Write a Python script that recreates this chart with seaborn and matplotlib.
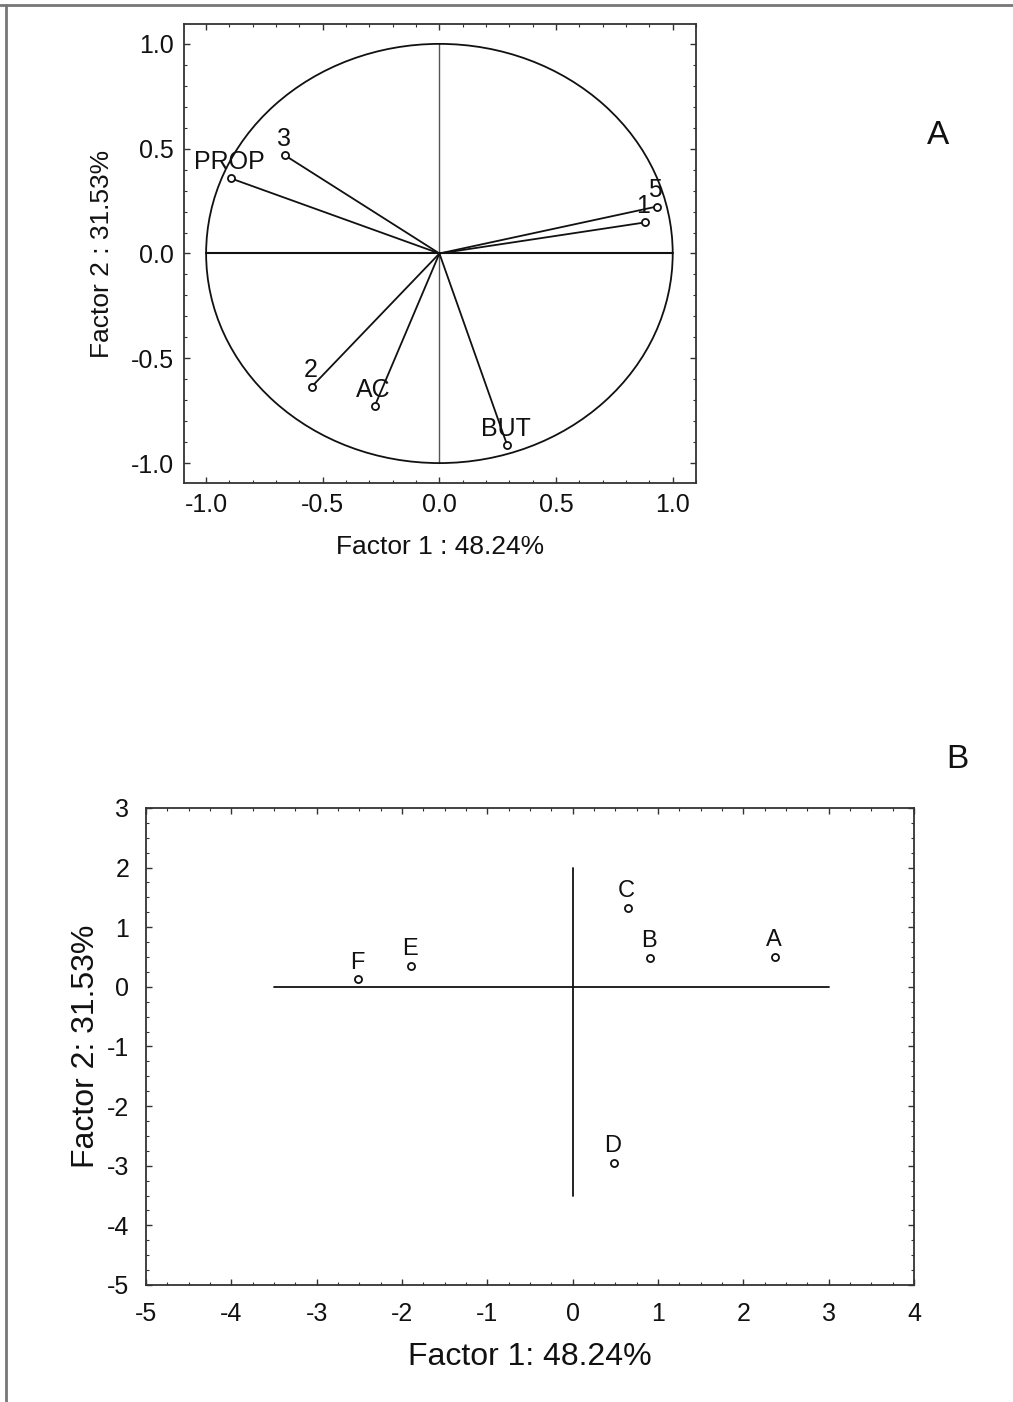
import numpy as np
import pandas as pd
import matplotlib
matplotlib.use("Agg")
import matplotlib.pyplot as plt
from matplotlib.lines import Line2D
from matplotlib.patches import Circle
from matplotlib.ticker import MultipleLocator
import seaborn as sns

# ---- Panel A: loadings ----
var_labels = ["PROP", "3", "5", "1", "2", "AC", "BUT"]
var_x = [-0.893, -0.662, 0.932, 0.880, -0.547, -0.278, 0.291]
var_y = [0.358, 0.468, 0.224, 0.148, -0.635, -0.730, -0.916]

# ---- Panel B: scores ----
obs_labels = ["A", "B", "C", "D", "E", "F"]
obs_x = [2.37, 0.91, 0.645, 0.48, -1.89, -2.51]
obs_y = [0.50, 0.49, 1.33, -2.95, 0.35, 0.13]

a_ticks = [-1.0, -0.5, 0.0, 0.5, 1.0]
b_xticks = [-5, -4, -3, -2, -1, 0, 1, 2, 3, 4]
b_yticks = [3, 2, 1, 0, -1, -2, -3, -4, -5]

sns.set_theme(style="white")
plt.rcParams['font.family'] = ['Liberation Sans', 'DejaVu Sans']
plt.rcParams['axes.unicode_minus'] = False

fig = plt.figure(figsize=(10.13, 14.02), dpi=100)

def style_axes(ax):
    for s in ax.spines.values():
        s.set_visible(True)
        s.set_color('#333333')
        s.set_linewidth(1.3)
    ax.tick_params(which='both', direction='in', top=True, right=True,
                   bottom=True, left=True, colors='#333333')
    ax.tick_params(which='major', length=4, width=1)
    ax.tick_params(which='minor', length=2.5, width=0.8)

# Panel A
axA = fig.add_axes([0.1816, 0.6555, 0.5055, 0.3274])
dfA = pd.DataFrame({"x": var_x, "y": var_y, "lab": var_labels})
for xv, yv in zip(var_x, var_y):
    axA.plot([0, xv], [0, yv], color='#111111', lw=1.3, zorder=2)
axA.add_patch(Circle((0, 0), 1.0, fill=False, ec='#111111', lw=1.3, zorder=2))
axA.plot([-1, 1], [0, 0], color='#111111', lw=1.5, zorder=1)
axA.plot([0, 0], [-1, 1], color='#555555', lw=1.0, zorder=1)
sns.scatterplot(data=dfA, x="x", y="y", ax=axA, marker='o', s=26,
                facecolor='white', edgecolor='#111111', linewidth=1.3,
                zorder=3, legend=False)
for xv, yv, lab in zip(var_x, var_y, var_labels):
    axA.annotate(lab, (xv, yv), xytext=(-1, 3), textcoords='offset points',
                 ha='center', va='bottom', fontsize=18, color='#111111')
axA.set_xlim(-1.095, 1.1)
axA.set_ylim(-1.095, 1.095)
axA.set_xticks(a_ticks)
axA.set_yticks(a_ticks)
axA.set_xticklabels([f"{t:.1f}" for t in a_ticks])
axA.set_yticklabels([f"{t:.1f}" for t in a_ticks])
axA.xaxis.set_minor_locator(MultipleLocator(0.1))
axA.yaxis.set_minor_locator(MultipleLocator(0.1))
style_axes(axA)
axA.tick_params(which='major', labelsize=18, pad=7, labelcolor='#111111')
axA.set_xlabel("Factor 1 : 48.24%", fontsize=19, labelpad=13, color='#111111')
axA.set_ylabel("Factor 2 : 31.53%", fontsize=19, labelpad=12, color='#111111')

# Panel B
axB = fig.add_axes([0.1441, 0.0835, 0.7582, 0.3402])
dfB = pd.DataFrame({"x": obs_x, "y": obs_y, "lab": obs_labels})
axB.plot([-3.5, 3.0], [0, 0], color='#111111', lw=1.3, zorder=1)
axB.plot([0, 0], [-3.5, 2.0], color='#111111', lw=1.3, zorder=1)
sns.scatterplot(data=dfB, x="x", y="y", ax=axB, marker='o', s=26,
                facecolor='white', edgecolor='#111111', linewidth=1.3,
                zorder=3, legend=False)
for xv, yv, lab in zip(obs_x, obs_y, obs_labels):
    axB.annotate(lab, (xv, yv), xytext=(-1, 4), textcoords='offset points',
                 ha='center', va='bottom', fontsize=17, color='#111111')
axB.set_xlim(-5, 4)
axB.set_ylim(-5, 3)
axB.set_xticks(b_xticks)
axB.set_yticks(b_yticks)
axB.xaxis.set_minor_locator(MultipleLocator(0.25))
axB.yaxis.set_minor_locator(MultipleLocator(0.25))
style_axes(axB)
axB.tick_params(which='major', labelsize=18, pad=12, labelcolor='#111111')
axB.set_xlabel("Factor 1: 48.24%", fontsize=23, labelpad=12, color='#111111')
axB.set_ylabel("Factor 2: 31.53%", fontsize=23, labelpad=4, color='#111111')

# Panel letters
fig.text(938 / 1013, 1 - 135 / 1402, "A", fontsize=24, ha='center', va='center',
         color='#111111')
fig.text(957 / 1013, 1 - 760 / 1402, "B", fontsize=24, ha='center', va='center',
         color='#111111')

# Figure frame (top and left)
fig.add_artist(Line2D([0, 1], [1 - 5 / 1402, 1 - 5 / 1402],
                      transform=fig.transFigure, color='#777777', lw=2))
fig.add_artist(Line2D([6 / 1013, 6 / 1013], [0, 1 - 5 / 1402],
                      transform=fig.transFigure, color='#777777', lw=2))

fig.savefig("out.png", dpi=100, facecolor='white')
